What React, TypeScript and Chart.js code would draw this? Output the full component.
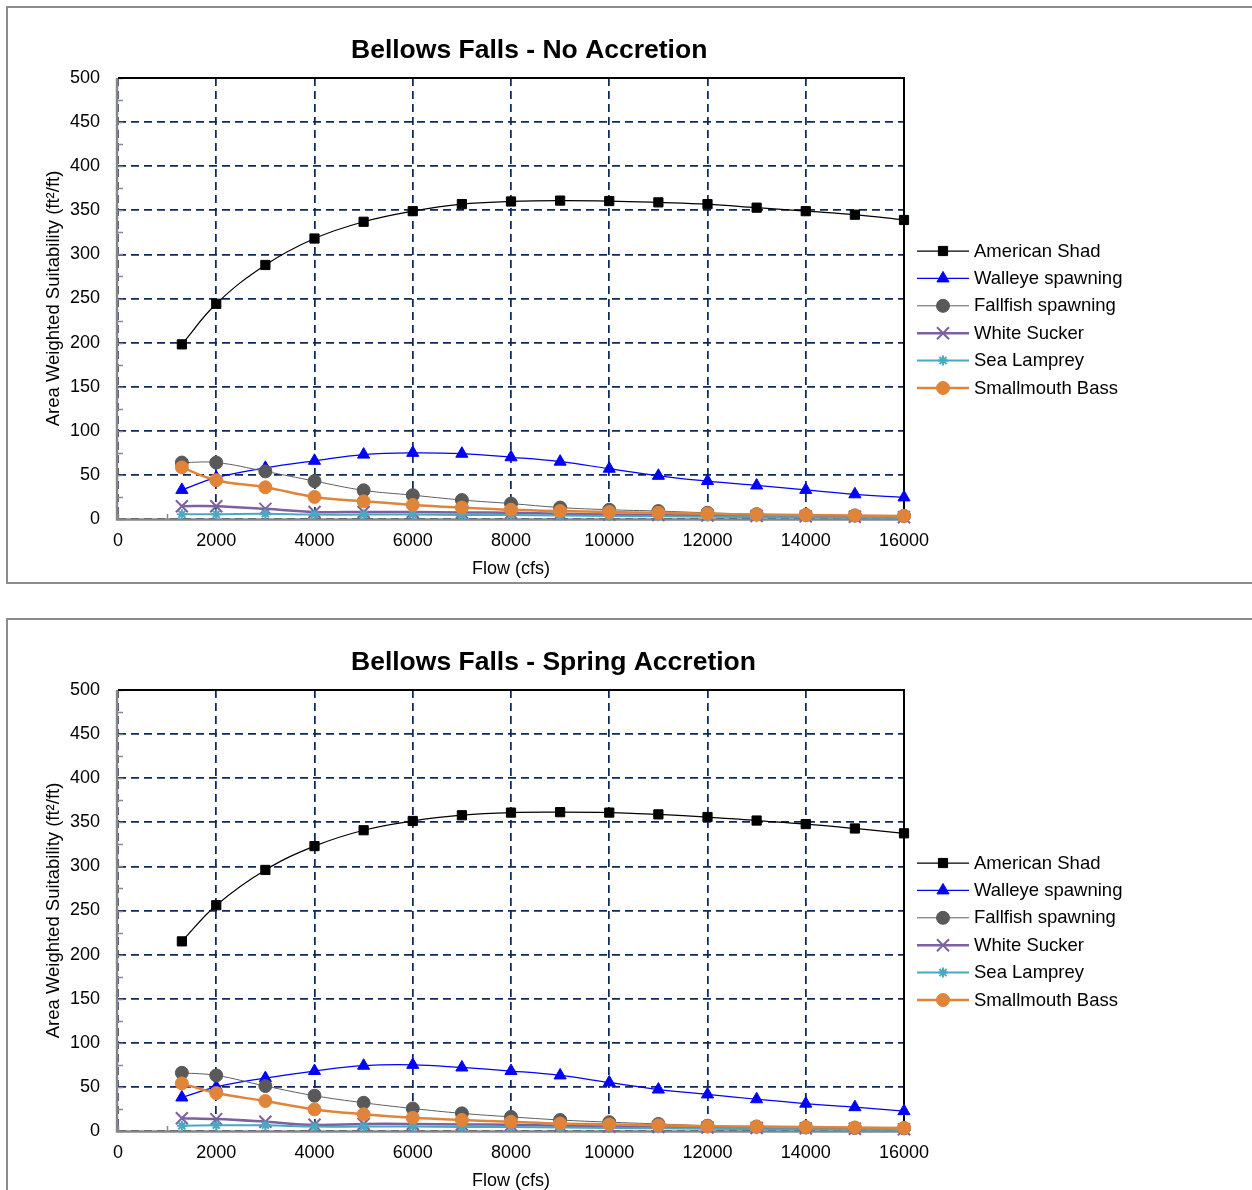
import React, { useEffect, useRef } from 'react';
import { Chart, registerables } from 'chart.js';
import { drawPoint } from 'chart.js/helpers';

Chart.register(...registerables);

// ---------- DATA ----------
const FLOWS = [1300, 2000, 3000, 4000, 5000, 6000, 7000, 8000, 9000, 10000, 11000, 12000, 13000, 14000, 15000, 16000];
const SERIES_NAMES = ['American Shad', 'Walleye spawning', 'Fallfish spawning', 'White Sucker', 'Sea Lamprey', 'Smallmouth Bass'];
const TITLES = ['Bellows Falls - No Accretion', 'Bellows Falls - Spring Accretion'];
const Y_TITLE = 'Area Weighted Suitability (ft\u00B2/ft)';
const X_TITLE = 'Flow (cfs)';
const Y_MIN = 0, Y_MAX = 500, Y_STEP = 50;
const X_MIN = 0, X_MAX = 16000, X_STEP = 2000;

// No Accretion
const SHAD_NO = [198, 244, 288, 318, 337, 349, 357, 360, 361, 360.5, 359, 357, 353, 349, 345, 339];
const WALLEYE_NO = [33, 47, 58, 66, 73, 75, 74, 70, 65, 57, 49, 43, 38, 33, 28, 24.5];
const FALLFISH_NO = [64, 64, 54, 43, 32.5, 27, 21.5, 17.5, 13, 10.5, 9, 7, 5.5, 4.5, 4, 3.5];
const SUCKER_NO = [14.5, 14.5, 11.5, 8, 8, 8, 7.5, 7, 6, 5, 4.5, 4, 3.5, 3, 2.5, 2];
const LAMPREY_NO = [5.5, 5.5, 6, 5, 5, 5, 4.5, 4.5, 4, 3.5, 3, 2.5, 2, 2, 1.5, 1.5];
const BASS_NO = [58.5, 44, 36, 25, 20, 16, 13, 10.5, 9, 8, 7, 6, 5, 4.5, 4, 3.5];

// Spring Accretion
const SHAD_SP = [215, 256, 296, 323, 341, 351.5, 358, 361, 361.5, 361, 359, 356, 352, 348, 343, 337.5];
const WALLEYE_SP = [38, 50, 60, 68, 74, 75, 72, 68, 63, 55, 47, 41.5, 36, 31, 27, 22.5];
const FALLFISH_SP = [66, 63, 51, 40, 32, 25.5, 20, 16, 12.5, 10, 8, 6, 5, 4, 3.5, 3];
const SUCKER_SP = [14.5, 13.5, 10.5, 7, 8, 8, 7.5, 7, 6, 5, 4.5, 4, 3.5, 3, 2.5, 2];
const LAMPREY_SP = [6, 6.5, 6.5, 5, 5, 5, 4.5, 4.5, 4, 3.5, 3, 2.5, 2, 2, 1.5, 1.5];
const BASS_SP = [54, 43, 34, 24.5, 19, 15, 12.5, 10.5, 8.5, 7.5, 6.5, 5.5, 5, 4.5, 4, 3.5];

const SERIES_NO = [SHAD_NO, WALLEYE_NO, FALLFISH_NO, SUCKER_NO, LAMPREY_NO, BASS_NO];
const SERIES_SP = [SHAD_SP, WALLEYE_SP, FALLFISH_SP, SUCKER_SP, LAMPREY_SP, BASS_SP];

// ---------- STYLES ----------
const FONT = "'Liberation Sans', Arial, Helvetica, sans-serif";
const GRID_COLOR = '#0d2a5e';
const STYLES = [
  { line: '#000000', fill: '#000000', lw: 1.25, style: 'rect', r: 6.5, bw: 1 },
  { line: '#0000ff', fill: '#0000ff', lw: 1.25, style: 'triangle', r: 7, bw: 1 },
  { line: '#5f5f5f', fill: '#595959', lw: 1, style: 'circle', r: 6.5, bw: 1 },
  { line: '#7d60a0', fill: '#7d60a0', lw: 2.5, style: 'crossRot', r: 8.5, bw: 2 },
  { line: '#4aa8c2', fill: '#4aa8c2', lw: 2, style: 'star', r: 5, bw: 2 },
  { line: '#e0843a', fill: '#e0843a', lw: 2.5, style: 'circle', r: 6.5, bw: 1 },
];

const CANVAS_W = 1252;
const CANVAS_H = 590;

const frameAndTitle = (title: string) => ({
  id: 'frameAndTitle',
  beforeDatasetsDraw(chart: any) {
    const { ctx, chartArea: a, scales } = chart;
    ctx.save();
    // minor ticks
    ctx.strokeStyle = '#8a8a8a';
    ctx.lineWidth = 1.5;
    for (let v = Y_MIN; v <= Y_MAX; v += Y_STEP / 2) {
      const y = Math.round(scales.y.getPixelForValue(v)) + 0.5;
      ctx.beginPath();
      ctx.moveTo(a.left, y);
      ctx.lineTo(a.left + 5, y);
      ctx.stroke();
    }
    for (let v = X_MIN; v <= X_MAX; v += X_STEP / 2) {
      const x = Math.round(scales.x.getPixelForValue(v)) + 0.5;
      ctx.beginPath();
      ctx.moveTo(x, a.bottom);
      ctx.lineTo(x, a.bottom - 5);
      ctx.stroke();
    }
    // top & right black border
    ctx.strokeStyle = '#000000';
    ctx.lineWidth = 2;
    ctx.beginPath();
    ctx.moveTo(a.left, a.top);
    ctx.lineTo(a.right, a.top);
    ctx.lineTo(a.right, a.bottom);
    ctx.stroke();
    // left & bottom gray axes
    ctx.strokeStyle = '#868686';
    ctx.lineWidth = 2.4;
    ctx.beginPath();
    ctx.moveTo(a.left - 1, a.top);
    ctx.lineTo(a.left - 1, a.bottom + 0.5);
    ctx.lineTo(a.right, a.bottom + 0.5);
    ctx.stroke();
    ctx.restore();
  },
  afterDraw(chart: any) {
    const { ctx } = chart;
    ctx.save();
    // title
    ctx.fillStyle = '#000000';
    ctx.font = `bold 26.5px ${FONT}`;
    ctx.textAlign = 'left';
    ctx.textBaseline = 'alphabetic';
    ctx.fillText(title, 351, 57.5);
    // legend
    chart.data.datasets.forEach((ds: any, i: number) => {
      const y = 251 + i * 27.4;
      ctx.strokeStyle = ds.borderColor;
      ctx.lineWidth = ds.borderWidth;
      ctx.beginPath();
      ctx.moveTo(917, y);
      ctx.lineTo(969, y);
      ctx.stroke();
      ctx.fillStyle = ds.pointBackgroundColor;
      ctx.strokeStyle = ds.pointBorderColor;
      ctx.lineWidth = ds.pointBorderWidth;
      drawPoint(ctx, { pointStyle: ds.pointStyle, radius: ds.pointRadius, rotation: 0, borderWidth: ds.pointBorderWidth }, 943, y);
      ctx.fillStyle = '#000000';
      ctx.font = `18.5px ${FONT}`;
      ctx.textAlign = 'left';
      ctx.textBaseline = 'middle';
      ctx.fillText(ds.label, 974, y + 0.5);
    });
    ctx.restore();
  },
});

function FlowChart({ title, series, top }: { title: string; series: number[][]; top: number }) {
  const ref = useRef<HTMLCanvasElement | null>(null);
  useEffect(() => {
    if (!ref.current) return;
    const datasets = series.map((vals, i) => {
      const s = STYLES[i];
      return {
        label: SERIES_NAMES[i],
        data: FLOWS.map((x, j) => ({ x, y: vals[j] })),
        borderColor: s.line,
        backgroundColor: s.fill,
        borderWidth: s.lw,
        pointStyle: s.style,
        pointRadius: s.r,
        pointHoverRadius: s.r,
        pointBackgroundColor: s.fill,
        pointBorderColor: s.fill,
        pointBorderWidth: s.bw,
        tension: 0.4,
        fill: false,
        clip: false,
        order: series.length - 1 - i,
      };
    });
    const chart = new Chart(ref.current, {
      type: 'line',
      data: { datasets },
      options: {
        animation: false,
        responsive: false,
        devicePixelRatio: 1,
        layout: { padding: { top: 78, right: CANVAS_W - 904, bottom: 0, left: 0 } },
        plugins: { legend: { display: false }, title: { display: false }, tooltip: { enabled: false } },
        scales: {
          x: {
            type: 'linear',
            min: X_MIN,
            max: X_MAX,
            ticks: {
              stepSize: X_STEP,
              color: '#000000',
              font: { family: FONT, size: 18 },
              padding: 11,
              maxRotation: 0,
              autoSkip: false,
              callback: (v: any) => String(v),
            },
            grid: { color: GRID_COLOR, lineWidth: 1.75, drawTicks: false },
            border: { display: false, dash: [8, 5] },
            title: { display: true, text: X_TITLE, color: '#000000', font: { family: FONT, size: 18 }, padding: { top: 0, bottom: 10 } },
            afterFit: (scale: any) => { scale.height = CANVAS_H - 519; },
          },
          y: {
            type: 'linear',
            min: Y_MIN,
            max: Y_MAX,
            ticks: { stepSize: Y_STEP, color: '#000000', font: { family: FONT, size: 18 }, padding: 18, callback: (v: any) => String(v) },
            grid: { color: GRID_COLOR, lineWidth: 1.75, drawTicks: false },
            border: { display: false, dash: [8, 5] },
            title: { display: true, text: Y_TITLE, color: '#000000', font: { family: FONT, size: 18.5 }, padding: { top: 43, bottom: 0 } },
            afterFit: (scale: any) => { scale.width = 118; },
          },
        },
      },
      plugins: [frameAndTitle(title)],
    } as any);
    return () => chart.destroy();
  }, [title, series]);
  return (
    <canvas
      ref={ref}
      width={CANVAS_W}
      height={CANVAS_H}
      style={{ position: 'absolute', left: 0, top, width: CANVAS_W, height: CANVAS_H }}
    />
  );
}

export default function App() {
  return (
    <div style={{ position: 'fixed', left: 0, top: 0, width: 1252, height: 1190, overflow: 'hidden', background: '#ffffff' }}>
      <div style={{ position: 'absolute', left: 6, top: 6, width: 1280, height: 574, border: '2px solid #8c8c8c' }} />
      <div style={{ position: 'absolute', left: 6, top: 618, width: 1280, height: 600, border: '2px solid #8c8c8c' }} />
      <FlowChart title={TITLES[0]} series={SERIES_NO} top={0} />
      <FlowChart title={TITLES[1]} series={SERIES_SP} top={612} />
    </div>
  );
}
